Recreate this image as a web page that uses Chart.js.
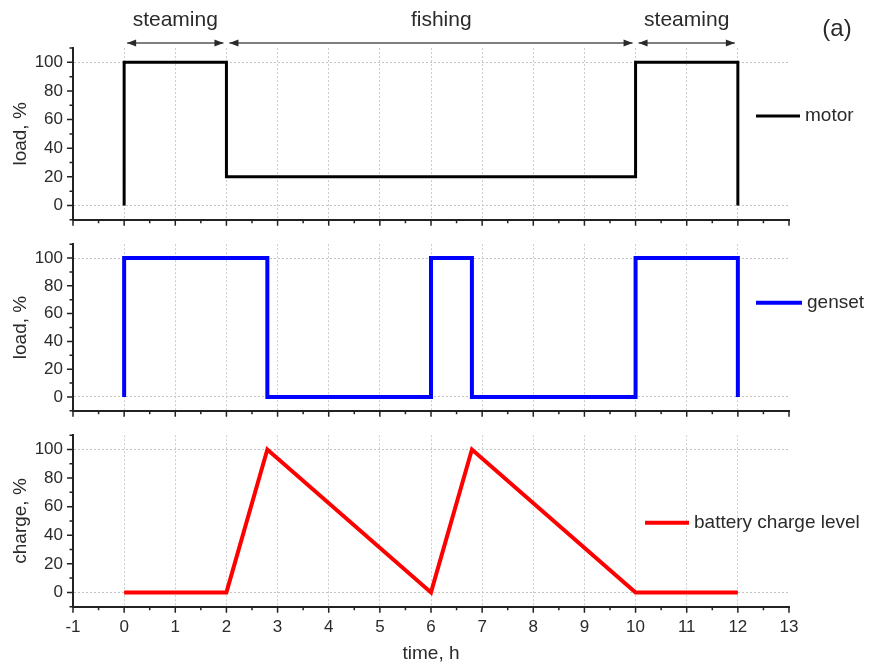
<!DOCTYPE html>
<html>
<head>
<meta charset="utf-8">
<script src="https://cdn.jsdelivr.net/npm/chart.js@4.4.1/dist/chart.umd.min.js"></script>
<style>
  html, body { margin: 0; padding: 0; background: #fff; }
  #wrap { position: relative; width: 871px; height: 667px; overflow: hidden; }
  #wrap canvas { position: absolute; left: 0; }
</style>
</head>
<body>
<div id="wrap">
  <canvas id="motorChart" width="871" height="240" style="top:0px"></canvas>
  <canvas id="gensetChart" width="871" height="207" style="top:224px"></canvas>
  <canvas id="batteryChart" width="871" height="252" style="top:415px"></canvas>
</div>
<script>
// values (time in h, load / charge in %)
const motorTime = [0, 0, 2, 2, 10, 10, 12, 12];
const motorLoad = [0, 100, 100, 20, 20, 100, 100, 0];

const gensetTime = [0, 0, 2.8, 2.8, 6, 6, 6.8, 6.8, 10, 10, 12, 12];
const gensetLoad = [0, 100, 100, 0, 0, 100, 100, 0, 0, 100, 100, 0];

const batteryTime = [0, 2, 2.8, 6, 6.8, 10, 12];
const batteryCharge = [0, 0, 100, 0, 100, 0, 0];

// operating phases shown above the top panel
const phaseNames = ['steaming', 'fishing', 'steaming'];
const phaseStart = [0, 2, 10];
const phaseEnd = [2, 10, 12];
const phaseLabelAt = [1, 6.2, 11];

const yTickLabels = [0, 20, 40, 60, 80, 100];

const FONT = '"Liberation Sans", Arial, sans-serif';
Chart.defaults.font.family = FONT;

const isWhole = v => Math.abs(v - Math.round(v)) < 1e-6;
const toPoints = (xs, ys) => xs.map((t, i) => ({ x: t, y: ys[i] }));

// outward tick marks, long at labelled ticks, short in between
const tickMarks = {
  id: 'tickMarks',
  afterDraw(chart) {
    const { ctx, chartArea: a, scales: { x, y } } = chart;
    ctx.save();
    ctx.strokeStyle = '#222';
    ctx.lineWidth = 1.5;
    ctx.beginPath();
    x.ticks.forEach(t => {
      const px = x.getPixelForValue(t.value);
      const len = isWhole(t.value) ? 6 : 3.5;
      ctx.moveTo(px, a.bottom);
      ctx.lineTo(px, a.bottom + len);
    });
    y.ticks.forEach(t => {
      const py = y.getPixelForValue(t.value);
      const len = yTickLabels.includes(Math.round(t.value)) ? 6 : 3.5;
      ctx.moveTo(a.left, py);
      ctx.lineTo(a.left - len, py);
    });
    ctx.stroke();
    ctx.restore();
  }
};

// legend entry at the right of each panel
const sideLegend = {
  id: 'sideLegend',
  afterDraw(chart, args, opts) {
    if (!opts || !opts.text) return;
    const { ctx } = chart;
    ctx.save();
    ctx.strokeStyle = opts.color;
    ctx.lineWidth = opts.width;
    ctx.beginPath();
    ctx.moveTo(opts.x1, opts.y);
    ctx.lineTo(opts.x2, opts.y);
    ctx.stroke();
    ctx.fillStyle = '#2a2a2a';
    ctx.font = '19px ' + FONT;
    ctx.textAlign = 'left';
    ctx.textBaseline = 'middle';
    ctx.fillText(opts.text, opts.x2 + 5, opts.y);
    ctx.restore();
  }
};

function arrowHead(ctx, tipX, y, dir) {
  ctx.beginPath();
  ctx.moveTo(tipX, y);
  ctx.lineTo(tipX + dir * 9, y - 3.5);
  ctx.lineTo(tipX + dir * 9, y + 3.5);
  ctx.closePath();
  ctx.fill();
}

const phaseArrows = {
  id: 'phaseArrows',
  afterDraw(chart) {
    const { ctx, scales: { x } } = chart;
    ctx.save();
    ctx.fillStyle = '#2a2a2a';
    ctx.strokeStyle = '#555';
    ctx.lineWidth = 1.5;
    ctx.font = '21px ' + FONT;
    ctx.textAlign = 'center';
    ctx.textBaseline = 'alphabetic';
    phaseNames.forEach((name, i) => {
      const x1 = x.getPixelForValue(phaseStart[i]) + 3;
      const x2 = x.getPixelForValue(phaseEnd[i]) - 3;
      const ya = 43;
      ctx.beginPath();
      ctx.moveTo(x1, ya);
      ctx.lineTo(x2, ya);
      ctx.stroke();
      arrowHead(ctx, x1, ya, 1);
      arrowHead(ctx, x2, ya, -1);
      ctx.fillText(name, x.getPixelForValue(phaseLabelAt[i]), 26);
    });
    ctx.font = '24px ' + FONT;
    ctx.textBaseline = 'middle';
    ctx.fillText('(a)', 837, 29);
    ctx.restore();
  }
};

function makePanel(id, xs, ys, color, lineWidth, yTitle, legend, cfg) {
  return new Chart(document.getElementById(id), {
    type: 'line',
    data: {
      datasets: [{
        data: toPoints(xs, ys),
        borderColor: color,
        borderWidth: lineWidth,
        borderJoinStyle: 'miter',
        pointRadius: 0,
        tension: 0,
        fill: false
      }]
    },
    options: {
      responsive: false,
      animation: false,
      events: [],
      layout: { padding: { top: cfg.padTop, right: 82, bottom: 0, left: 0 } },
      plugins: {
        legend: { display: false },
        tooltip: { enabled: false },
        sideLegend: legend
      },
      scales: {
        x: {
          type: 'linear',
          min: -1,
          max: 13,
          afterFit: s => { s.height = cfg.xHeight; },
          ticks: {
            stepSize: 0.5,
            autoSkip: false,
            maxRotation: 0,
            display: cfg.showX,
            padding: 10,
            color: '#2a2a2a',
            font: { size: 17 },
            callback: v => isWhole(v) ? String(Math.round(v)) : ''
          },
          grid: {
            drawTicks: false,
            lineWidth: 1,
            color: c => (c.tick && isWhole(c.tick.value) && c.tick.value >= 0 && c.tick.value <= 12)
              ? '#cccccc' : 'rgba(0,0,0,0)'
          },
          border: { color: '#222', width: 2, dash: [2, 2] },
          title: {
            display: cfg.showX,
            text: 'time, h',
            color: '#2a2a2a',
            font: { size: 19 },
            padding: { top: 0, bottom: 2 }
          }
        },
        y: {
          min: -10,
          max: 110,
          afterFit: s => { s.width = 73; },
          ticks: {
            stepSize: 10,
            autoSkip: false,
            padding: 10,
            color: '#2a2a2a',
            font: { size: 17 },
            callback: v => yTickLabels.includes(v) ? String(v) : ''
          },
          grid: {
            drawTicks: false,
            lineWidth: 1,
            color: c => (c.tick && (c.tick.value === 0 || c.tick.value === 100)) ? '#c4c4c4' : 'rgba(0,0,0,0)'
          },
          border: { color: '#222', width: 2, dash: [2, 2] },
          title: {
            display: true,
            text: yTitle,
            color: '#2a2a2a',
            font: { size: 19 },
            padding: { top: 9, bottom: 0 }
          }
        }
      }
    },
    plugins: [tickMarks, sideLegend].concat(cfg.extra || [])
  });
}

makePanel('motorChart', motorTime, motorLoad, '#000000', 3, 'load, %',
  { text: 'motor', color: '#000000', width: 3, x1: 756, x2: 800, y: 116 },
  { padTop: 48, xHeight: 16.3, showX: false, extra: [phaseArrows] });

makePanel('gensetChart', gensetTime, gensetLoad, '#0000ff', 4, 'load, %',
  { text: 'genset', color: '#0000ff', width: 4, x1: 756, x2: 802, y: 78.7 },
  { padTop: 15, xHeight: 16, showX: false });

makePanel('batteryChart', batteryTime, batteryCharge, '#ff0000', 4, 'charge, %',
  { text: 'battery charge level', color: '#ff0000', width: 4, x1: 645, x2: 689, y: 107.7 },
  { padTop: 15, xHeight: 60.3, showX: true });
</script>
</body>
</html>
